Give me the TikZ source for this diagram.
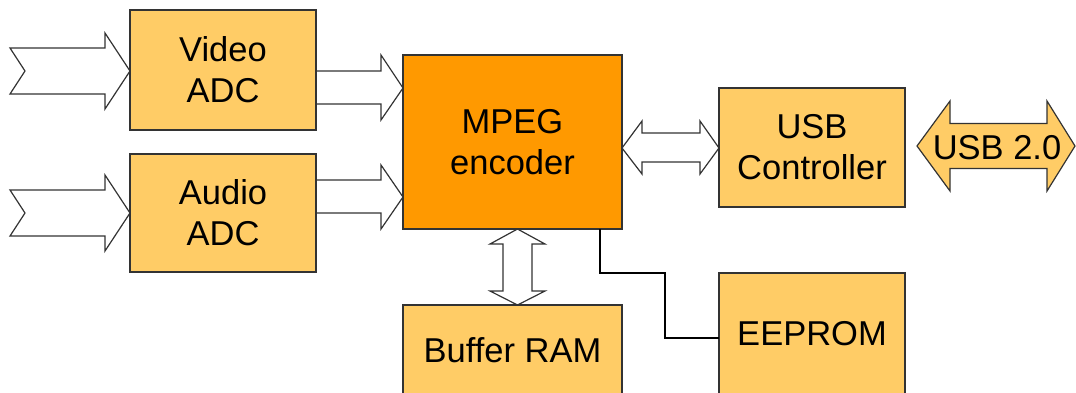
\documentclass[tikz,border=0pt]{standalone}
\usepackage{fontspec}
\setmainfont{Liberation Sans}
\usetikzlibrary{calc}
\definecolor{blockfill}{HTML}{FFCC66}
\definecolor{corefill}{HTML}{FF9900}
\definecolor{edge}{HTML}{333333}
\tikzset{
  label font/.style={font=\fontsize{34.5}{41}\selectfont},
  box/.style={draw=edge, line width=1.2pt, fill=blockfill, inner sep=0pt,
    outer sep=0pt, align=center, label font},
  blk/.style={draw=edge, line width=1.2pt, line join=miter},
  wire/.style={draw=black, line width=1.2pt}
}
\begin{document}
\begin{tikzpicture}[x=1pt, y=-1pt]
  \useasboundingbox (0,0) rectangle (1076,392);
  \clip (0,0) rectangle (1076,392);

  % functional blocks
  \node[box, minimum width=186pt, minimum height=120pt] (video) at (223,70) {Video\\ADC};
  \node[box, minimum width=186pt, minimum height=118pt] (audio) at (223,213) {Audio\\ADC};
  \node[box, fill=corefill, minimum width=219pt, minimum height=174pt] (mpeg) at (512.5,142) {MPEG\\encoder};
  \node[box, minimum width=186pt, minimum height=119pt] (usb) at (812,147.5) {USB\\Controller};
  \node[box, minimum width=219pt, minimum height=90pt] (ram) at (512.5,350) {Buffer RAM};
  \node[box, minimum width=186pt, minimum height=122pt] (eeprom) at (812,334) {EEPROM};

  % incoming signals (notched block arrows)
  \coordinate (vin) at (10,71);
  \coordinate (ain) at (10,213);
  \draw[blk] (vin |- 0,48) -- (105,48) -- (105,33) -- (video.west |- 0,71)
    -- (105,109) -- (105,94) -- (vin |- 0,94) -- ($(vin)+(15,0)$) -- cycle;
  \draw[blk] (ain |- 0,190) -- (105,190) -- (105,175) -- (audio.west |- 0,213)
    -- (105,251) -- (105,236) -- (ain |- 0,236) -- ($(ain)+(15,0)$) -- cycle;

  % ADC outputs into the encoder
  \draw[blk] (video.east |- 0,71) -- (381,71) -- (381,55) -- (mpeg.west |- 0,88)
    -- (381,120) -- (381,104) -- (video.east |- 0,104);
  \draw[blk] (audio.east |- 0,180) -- (381,180) -- (381,165) -- (mpeg.west |- 0,197)
    -- (381,229) -- (381,213) -- (audio.east |- 0,213);

  % encoder <-> USB controller
  \draw[blk] (mpeg.east |- 0,148) -- (642,121) -- (642,133) -- (700,133) -- (700,121)
    -- (usb.west |- 0,148) -- (700,174) -- (700,162) -- (642,162) -- (642,174) -- cycle;

  % encoder <-> buffer RAM
  \draw[blk] (mpeg.south -| 517.5,0) -- (545,244) -- (532,244) -- (532,291) -- (545,291)
    -- (ram.north -| 517.5,0) -- (490,291) -- (503,291) -- (503,244) -- (490,244) -- cycle;

  % encoder to EEPROM
  \draw[wire] (mpeg.south -| 600,0) |- (665,273) |- (eeprom.west |- 0,338);

  % USB 2.0 bus
  \coordinate (bus) at ($(usb.east)+(12,-1.5)$);
  \draw[blk, fill=blockfill] (bus) -- (950,101) -- (950,123.5) -- (1047,123.5) -- (1047,101)
    -- (1075,146) -- (1047,191) -- (1047,168.5) -- (950,168.5) -- (950,191) -- cycle;
  \node[label font, inner sep=0pt] (bustext) at (997,147.5) {USB 2.0};
\end{tikzpicture}
\end{document}
